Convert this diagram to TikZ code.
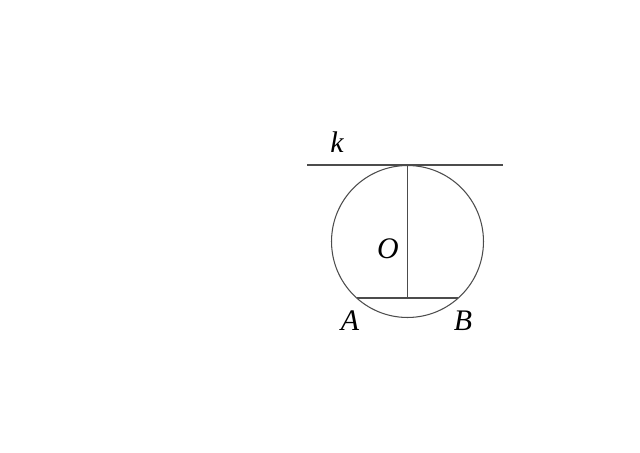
\documentclass[tikz,border=0pt]{standalone}
\usepackage{fontspec}
\setmainfont{Liberation Serif}
\usetikzlibrary{positioning}
\tikzset{lbl/.style={font=\fontsize{17}{20}\selectfont\itshape, inner sep=0pt},
 thinline/.style={draw=black!70, line width=0.6pt},
 }

\begin{document}
\begin{tikzpicture}[x=0.02cm,y=-0.02cm]
        \useasboundingbox (0,0) rectangle (640,453);
        \coordinate (O) at (407.5,241.5);
        \coordinate (T) at (407.5,165);
        \coordinate (M) at (407.5,298);
        \coordinate (A) at (357,298);
        \coordinate (B) at (458,298);
        \coordinate (kL) at (307,165);
        \coordinate (kR) at (503,165);

        \draw[thinline] (O) circle [radius=1.52cm];
        \draw[thinline] (kL) -- (kR);
        \draw[thinline] (T) -- (M);
        \draw[thinline] (A) -- (B);

        \node[lbl] (klabel) at (337,142) {k};
        \node[lbl] (Olabel) at (388,249) {O};
        \node[lbl] (Alabel) at (350,321) {A};
        \node[lbl] (Blabel) at (463,321) {B};
\end{tikzpicture}
\end{document}
